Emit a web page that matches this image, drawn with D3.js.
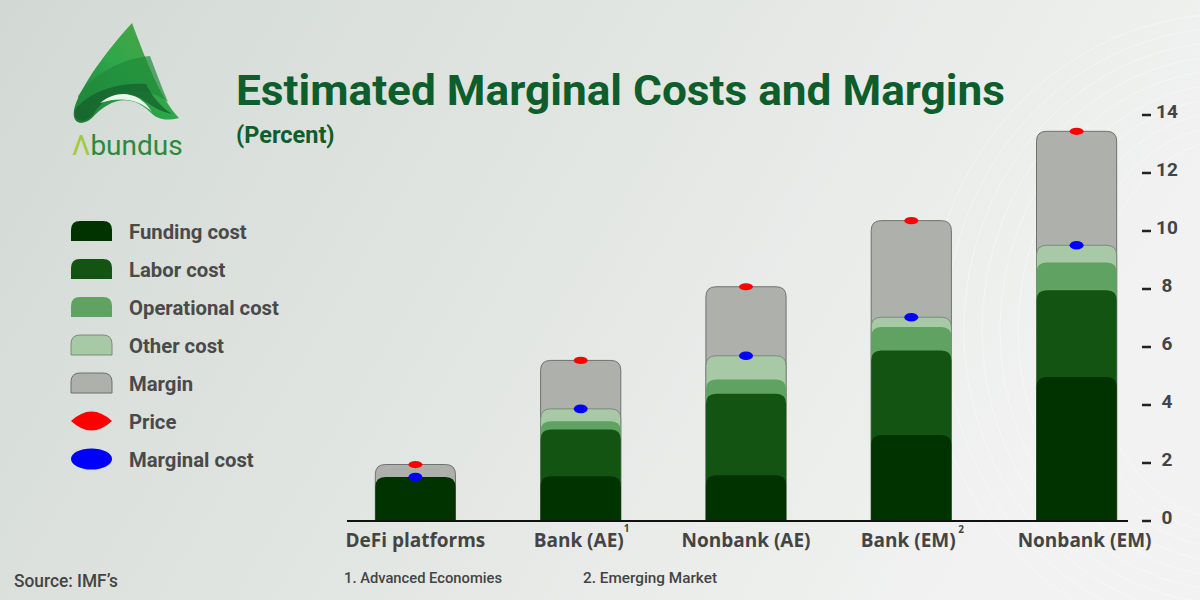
<!DOCTYPE html>
<html>
<head>
<meta charset="utf-8">
<script src="https://cdn.jsdelivr.net/npm/d3@7"></script>
<style>
html,body{margin:0;padding:0;}
body{width:1200px;height:600px;overflow:hidden;}
svg{display:block;}
</style>
</head>
<body>
<svg id="chart" width="1200" height="600"></svg>
<script>
// ---- Data ----
const categories = ["DeFi platforms", "Bank (AE)", "Nonbank (AE)", "Bank (EM)", "Nonbank (EM)"];
const superscripts = ["", "1", "", "2", ""];
const fundingCost     = [1.50, 1.53, 1.56, 2.95, 4.95];
const laborCost       = [0.00, 1.61, 2.81, 2.91, 2.99];
const operationalCost = [0.00, 0.28, 0.49, 0.81, 0.96];
const otherCost       = [0.00, 0.43, 0.82, 0.34, 0.59];
const margin          = [0.43, 1.67, 2.38, 3.33, 3.93];
const price           = [1.93, 5.52, 8.06, 10.34, 13.42];
const marginalCost    = [1.50, 3.85, 5.68, 7.01, 9.49];
const yTicks = [0, 2, 4, 6, 8, 10, 12, 14];
const seriesNames = ["Funding cost", "Labor cost", "Operational cost", "Other cost", "Margin"];
const pointNames = ["Price", "Marginal cost"];
const footnotes = ["1.  Advanced Economies", "2.  Emerging Market"];

// ---- Styles ----
const colors = {
  "Funding cost": "#013300",
  "Labor cost": "#145412",
  "Operational cost": "#5fa262",
  "Other cost": "#a8c9a5",
  "Margin": "#adb0ab",
  "Price": "#ff0000",
  "Marginal cost": "#0000ff"
};
const strokes = {"Other cost": "#7c8a7b", "Margin": "#6f716e"};
const labelDx = [0, -2, 0, -3, 8];

const svg = d3.select("#chart");
const defs = svg.append("defs");
const bg = defs.append("linearGradient").attr("id", "bg").attr("x1", "0").attr("y1", "0").attr("x2", "1").attr("y2", "0.3");
bg.append("stop").attr("offset", "0").attr("stop-color", "#d2d9d4");
bg.append("stop").attr("offset", "0.55").attr("stop-color", "#e3e7e4");
bg.append("stop").attr("offset", "1").attr("stop-color", "#f1f2f1");
svg.append("rect").attr("width", 1200).attr("height", 600).attr("fill", "url(#bg)");

// faint decorative contour lines
const deco = svg.append("g").attr("fill", "none").attr("stroke", "#ffffff").attr("stroke-opacity", 0.35).attr("stroke-width", 1);
for (let i = 0; i < 10; i++) {
  deco.append("ellipse").attr("cx", 1230).attr("cy", 330).attr("rx", 140 + i * 18).attr("ry", 190 + i * 14);
}

// ---- Logo ----
const logo = svg.append("g");
const lg1 = defs.append("linearGradient").attr("id", "lg1").attr("x1", "0").attr("y1", "1").attr("x2", "1").attr("y2", "0");
lg1.append("stop").attr("offset", "0").attr("stop-color", "#1f7a36");
lg1.append("stop").attr("offset", "0.5").attr("stop-color", "#2ea84a");
lg1.append("stop").attr("offset", "1").attr("stop-color", "#5aa040");
logo.append("path")
  .attr("d", "M132,23 C112,45 84,80 75,106 C70,122 80,128 92,118 C108,100 130,92 150,112 C158,120 166,121 179,118 C160,98 146,60 132,23 Z")
  .attr("fill", "url(#lg1)");
logo.append("path")
  .attr("d", "M78,96 C95,72 125,58 150,56 C156,72 162,88 168,102 C150,88 120,86 98,104 C90,111 80,114 78,96 Z")
  .attr("fill", "#1f8a3a").attr("opacity", 0.7);
logo.append("path")
  .attr("d", "M75,110 C88,92 118,82 146,84 C152,96 160,106 172,114 C160,112 152,106 140,98 C122,90 104,96 92,116 C84,124 73,122 75,110 Z")
  .attr("fill", "#15602c").attr("opacity", 0.75);
logo.append("path")
  .attr("d", "M100,103 C118,88 140,92 152,112 C140,100 122,96 100,103 Z")
  .attr("fill", "#ffffff").attr("opacity", 0.9);
const logoText = logo.append("text").attr("x", 72).attr("y", 155)
  .attr("font-family", "Roboto, sans-serif").attr("font-size", 28).attr("font-weight", 400);
logoText.append("tspan").attr("fill", "#9fcb3a").text("Λ");
logoText.append("tspan").attr("fill", "#2c8a40").text("bundus");

// ---- Titles ----
svg.append("text").attr("x", 236).attr("y", 105)
  .attr("font-family", "Roboto, sans-serif").attr("font-weight", 700).attr("font-size", 42)
  .attr("fill", "#0d5e2c").attr("textLength", 769).attr("lengthAdjust", "spacingAndGlyphs")
  .text("Estimated Marginal Costs and Margins");
svg.append("text").attr("x", 236).attr("y", 143)
  .attr("font-family", "Roboto, sans-serif").attr("font-weight", 700).attr("font-size", 23.5)
  .attr("fill", "#0d5e2c").text("(Percent)");

// ---- Scales ----
const x = d3.scaleBand().domain(categories).range([334, 1158]).paddingInner(0.515).paddingOuter(0.25);
const y = d3.scaleLinear().domain([0, 14]).range([520.5, 114.5]);

// stacked cumulative tops
const stackData = categories.map((c, i) => {
  const vals = [fundingCost[i], laborCost[i], operationalCost[i], otherCost[i], margin[i]];
  let cum = 0;
  const tops = vals.map(v => (cum += v));
  return {cat: c, tops};
});

function roundTopRect(x0, w, yTop, yBot, r) {
  const h = yBot - yTop;
  const rr = Math.min(r, h, w / 2);
  return `M${x0},${yBot} L${x0},${yTop + rr} Q${x0},${yTop} ${x0 + rr},${yTop} L${x0 + w - rr},${yTop} Q${x0 + w},${yTop} ${x0 + w},${yTop + rr} L${x0 + w},${yBot} Z`;
}

const barsG = svg.append("g");
// draw from back (margin, tallest) to front (funding)
for (let s = seriesNames.length - 1; s >= 0; s--) {
  const name = seriesNames[s];
  barsG.selectAll(null).data(stackData.filter((d, i) => {
    const prev = s > 0 ? d.tops[s - 1] : 0;
    return d.tops[s] - prev > 0.001;
  })).enter().append("path")
    .attr("d", d => roundTopRect(x(d.cat), x.bandwidth(), y(d.tops[s]), y(0), 10))
    .attr("fill", colors[name])
    .attr("stroke", strokes[name] || "none")
    .attr("stroke-width", strokes[name] ? 1 : 0);
}

// points
const ptG = svg.append("g");
ptG.selectAll(".price").data(categories).enter().append("ellipse")
  .attr("cx", d => x(d) + x.bandwidth() / 2).attr("cy", (d, i) => y(price[i]))
  .attr("rx", 7).attr("ry", 3.6).attr("fill", colors["Price"]);
ptG.selectAll(".mc").data(categories).enter().append("ellipse")
  .attr("cx", d => x(d) + x.bandwidth() / 2).attr("cy", (d, i) => y(marginalCost[i]))
  .attr("rx", 7).attr("ry", 4.3).attr("fill", colors["Marginal cost"]);

// baseline
svg.append("line").attr("x1", 347).attr("x2", 1128).attr("y1", 521).attr("y2", 521)
  .attr("stroke", "#111").attr("stroke-width", 2);

// ---- Y axis (right) ----
const yAxisG = svg.append("g").attr("transform", "translate(1142,0)");
const yAxis = d3.axisRight(y).tickValues(yTicks).tickSize(9).tickPadding(0).tickFormat(d3.format("d"));
yAxisG.call(yAxis);
yAxisG.select(".domain").remove();
yAxisG.selectAll(".tick line").attr("stroke", "#222").attr("stroke-width", 2.5);
yAxisG.selectAll(".tick text")
  .attr("x", 25).attr("dy", "0.15em").attr("text-anchor", "middle")
  .attr("font-family", "Roboto, sans-serif").attr("font-weight", 700).attr("font-size", 19)
  .attr("fill", "#444");

// ---- X category labels ----
const xLab = svg.append("g");
xLab.selectAll("text").data(categories).enter().append("text")
  .attr("x", (d, i) => x(d) + x.bandwidth() / 2 + labelDx[i]).attr("y", 547)
  .attr("text-anchor", "middle")
  .attr("font-family", "'Open Sans', sans-serif").attr("font-weight", 700).attr("font-size", 19)
  .attr("fill", "#444").text(d => d);
xLab.selectAll(".sup").data(categories.filter((d, i) => superscripts[i])).enter().append("text")
  .attr("x", d => x(d) + x.bandwidth() / 2 + (d === "Bank (AE)" ? 43 : 47))
  .attr("y", d => d === "Bank (AE)" ? 532 : 533)
  .attr("font-family", "'Open Sans', sans-serif").attr("font-weight", 700).attr("font-size", 10)
  .attr("fill", "#444").text(d => superscripts[categories.indexOf(d)]);

// ---- Legend ----
const legend = svg.append("g");
const legY0 = 231, legStep = 38;
seriesNames.forEach((name, i) => {
  const cy = legY0 + i * legStep;
  legend.append("path")
    .attr("d", roundTopRect(71, 41, cy - 10, cy + 10, 9))
    .attr("fill", colors[name])
    .attr("stroke", strokes[name] || "none").attr("stroke-width", strokes[name] ? 1 : 0);
});
pointNames.forEach((name, i) => {
  const cy = legY0 + (i + 5) * legStep;
  if (name === "Price") {
    legend.append("path")
      .attr("d", `M71,${cy} Q91.5,${cy - 19} 112,${cy} Q91.5,${cy + 19} 71,${cy} Z`)
      .attr("fill", colors[name]);
  } else {
    legend.append("ellipse").attr("cx", 91.5).attr("cy", cy).attr("rx", 20.5).attr("ry", 10.5)
      .attr("fill", colors[name]);
  }
});
legend.selectAll("text").data(seriesNames.concat(pointNames)).enter().append("text")
  .attr("x", 129).attr("y", (d, i) => legY0 + i * legStep + 7.5)
  .attr("font-family", "Roboto, sans-serif").attr("font-weight", 700).attr("font-size", 20.3)
  .attr("fill", "#4a4a4a").text(d => d);

// ---- Footnotes & source ----
svg.append("text").attr("x", 344).attr("y", 583)
  .attr("font-family", "Roboto, sans-serif").attr("font-weight", 500).attr("font-size", 15.5)
  .attr("fill", "#444").attr("textLength", 158).attr("lengthAdjust", "spacingAndGlyphs").text(footnotes[0]);
svg.append("text").attr("x", 583).attr("y", 583)
  .attr("font-family", "Roboto, sans-serif").attr("font-weight", 500).attr("font-size", 15.5)
  .attr("fill", "#444").attr("textLength", 134).attr("lengthAdjust", "spacingAndGlyphs").text(footnotes[1]);
svg.append("text").attr("x", 14).attr("y", 587)
  .attr("font-family", "Roboto, sans-serif").attr("font-weight", 500).attr("font-size", 19)
  .attr("fill", "#444").attr("textLength", 104).attr("lengthAdjust", "spacingAndGlyphs").text("Source: IMF\u2019s");
</script>
</body>
</html>
